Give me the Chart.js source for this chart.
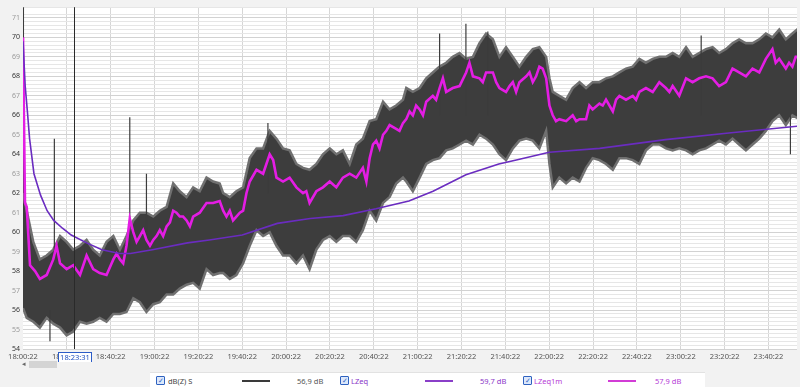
<!DOCTYPE html>
<html>
<head>
<meta charset="utf-8">
<script src="https://cdn.jsdelivr.net/npm/chart.js@4/dist/chart.umd.min.js"></script>
<style>
  body { margin: 0; width: 800px; height: 387px; background: #f2f2f2; overflow: hidden; position: relative;
         font-family: "Noto Sans", "Open Sans", sans-serif; }
  #wrap { position: absolute; left: 0; top: 0; width: 800px; height: 362px; }
  .scroll-arrow { position: absolute; left: 22px; top: 359px; font-size: 7px; color: #666; }
  .scroll-thumb { position: absolute; left: 29px; top: 361px; width: 28px; height: 7px; background: #d4d4d4; }
  .legend { position: absolute; left: 150px; top: 372px; width: 555px; height: 15px; background: #fff;
            border-top: 1px solid #e2e2e2; font-size: 7.5px; }
  .legend span { position: absolute; top: 3px; white-space: nowrap; }
  .legend .chk { top: 3px; width: 7px; height: 7px; border: 1px solid #2f62c0; background: #dce8fb;
                 color: #2f62c0; font-size: 7px; line-height: 7px; text-align: center; border-radius: 1px; }
  .legend .ln { top: 7px; height: 2px; }
</style>
</head>
<body>
<div id="wrap"><canvas id="chart" width="800" height="362"></canvas></div>
<div class="scroll-arrow">◂</div>
<div class="scroll-thumb"></div>
<div class="legend">
  <span class="chk" style="left:6px">✓</span>
  <span style="left:18px; color:#444">dB(Z) S</span>
  <span class="ln" style="left:92px; width:28px; background:#3a3a3a"></span>
  <span style="left:147px; color:#555">56,9 dB</span>
  <span class="chk" style="left:190px">✓</span>
  <span style="left:201px; color:#8a35c8">LZeq</span>
  <span class="ln" style="left:275px; width:28px; background:#8a3fc8"></span>
  <span style="left:330px; color:#8a35c8">59,7 dB</span>
  <span class="chk" style="left:373px">✓</span>
  <span style="left:384px; color:#b53bd6">LZeq1m</span>
  <span class="ln" style="left:458px; width:28px; background:#d23cd6"></span>
  <span style="left:505px; color:#b53bd6">57,9 dB</span>
</div>
<script>
// minutes after 18:00:22
const START_SEC = 18 * 3600 + 22;
const cursorT = 23.15;

// dB(Z) S — envelope of the fast signal (upper / lower edge)
const bandT = [0, 1.7, 4.7, 7.7, 10.8, 13.8, 16.9, 19.9, 22.9, 26, 29, 32, 35, 38.1, 41.2, 44.2, 47.2, 50.3, 53.3, 56.3,
  59.4, 62.4, 65.5, 68.5, 71.5, 74.6, 77.6, 80.6, 83.7, 86.7, 89.7, 91.3, 94.3, 97.3, 100.4, 103.4, 106.5, 109.5, 112.5, 115.6,
  118.6, 121.6, 124.7, 127.7, 130.7, 133.8, 136.8, 139.9, 142.9, 145.9, 149, 152, 155, 158.1, 161.1, 164.2, 167.2, 170.2, 173.3, 174.8,
  177.8, 180.9, 183.9, 186.9, 190, 193, 196, 199.1, 202.1, 205.2, 208.2, 211.2, 214.3, 217.3, 220.3, 223.4, 226.4, 229.5, 232.5, 235.5,
  238.6, 240.1, 241.6, 244.6, 247.7, 250.7, 253.8, 256.8, 259.8, 262.9, 265.9, 269, 272, 275, 278.1, 281.1, 284.1, 287.2, 290.2, 293.2,
  296.3, 299.3, 302.4, 305.4, 308.4, 311.5, 314.5, 317.5, 320.6, 323.6, 326.6, 329.7, 332.7, 335.8, 338.8, 341.8, 344.9, 347.9, 350.9, 354];
const bandHigh = [62.0, 61.1, 59.5, 58.6, 58.8, 59.1, 59.8, 59.5, 59.1, 59.3, 59.6, 59.1, 58.8, 59.5, 59.8, 59.1, 59.8, 60.6, 61.0, 61.0,
  60.8, 61.1, 61.3, 62.5, 62.1, 61.8, 62.3, 62.1, 62.8, 62.6, 62.5, 62.0, 61.8, 62.1, 62.3, 63.8, 64.3, 64.3, 65.2, 64.8,
  64.3, 64.2, 63.5, 63.3, 63.2, 63.5, 64.0, 64.3, 64.0, 64.2, 63.5, 64.5, 64.8, 65.7, 65.8, 66.7, 66.3, 66.5, 66.8, 67.4,
  67.2, 67.4, 67.9, 68.2, 68.5, 68.7, 69.0, 69.2, 68.9, 69.0, 69.7, 70.2, 69.9, 69.0, 69.5, 69.0, 68.5, 69.0, 69.4, 69.5,
  69.0, 67.9, 67.2, 67.0, 66.8, 67.4, 67.7, 67.4, 67.7, 67.7, 67.9, 68.0, 68.2, 68.4, 68.5, 68.9, 68.7, 68.9, 69.0, 69.0,
  69.2, 69.0, 69.5, 69.0, 69.2, 69.4, 69.5, 69.2, 69.4, 69.7, 69.9, 69.7, 69.7, 69.9, 70.2, 70.0, 70.4, 69.9, 70.2, 70.5];
const bandLow = [56.1, 55.6, 55.4, 55.1, 55.6, 55.3, 55.1, 54.7, 54.9, 55.4, 55.3, 55.4, 55.6, 55.4, 55.8, 55.8, 55.9, 56.6, 56.4, 55.9,
  56.3, 56.4, 56.8, 56.8, 57.1, 57.3, 57.4, 57.1, 58.1, 57.8, 57.9, 57.9, 57.6, 57.8, 58.4, 59.3, 60.1, 59.8, 60.0, 59.3,
  58.8, 58.8, 58.4, 58.8, 58.1, 59.1, 59.6, 59.8, 59.5, 59.8, 59.8, 59.5, 60.1, 61.1, 60.6, 61.5, 61.8, 62.5, 62.8, 62.6,
  62.1, 62.8, 63.5, 63.7, 63.8, 64.2, 64.3, 64.5, 64.7, 64.5, 65.0, 64.8, 64.5, 64.0, 63.7, 64.3, 64.7, 64.8, 64.7, 64.3,
  65.2, 63.5, 62.3, 62.8, 62.5, 62.8, 62.6, 63.3, 63.8, 63.7, 63.5, 63.2, 63.8, 63.8, 63.7, 63.5, 64.2, 64.5, 64.5, 64.3,
  64.2, 64.3, 64.2, 64.0, 64.2, 64.3, 64.5, 64.7, 64.5, 64.8, 64.5, 64.2, 64.5, 64.8, 65.2, 65.7, 66.0, 65.5, 66.0, 65.8];

// isolated spikes of dB(Z) S
const spikeT = [0.2, 12.3, 14.3, 48.7, 56.3, 111.7, 190, 202, 212, 309.3, 350];
const spikeLow = [62.0, 54.4, 58.0, 58.5, 59.0, 62.0, 66.0, 66.0, 66.0, 66.0, 64.0];
const spikeHigh = [72.0, 56.0, 64.8, 65.9, 63.0, 65.6, 70.2, 70.7, 70.3, 70.1, 66.0];

// LZeq1m
const lzeq1mT = [0, 0.9, 1.7, 3.2, 5.5, 7.7, 10.8, 13.8, 15.3, 16.9, 19.9, 22.9, 26, 29, 32, 35, 38.1, 41.2, 42.7, 44.2,
  45.7, 47.2, 48.7, 50.3, 51.8, 53.3, 54.8, 56.3, 57.9, 59.4, 60.9, 62.4, 63.9, 65.5, 67, 68.5, 70, 71.5, 73, 74.6,
  76.1, 77.6, 80.6, 83.7, 86.7, 89.7, 91.3, 92.8, 94.3, 95.8, 98.9, 100.4, 101.9, 103.4, 106.5, 109.5, 112.5, 114.1, 115.6, 118.6,
  121.6, 124.7, 127.7, 129.2, 130.7, 133.8, 136.8, 139.9, 142.9, 145.9, 149, 152, 155, 156.6, 158.1, 159.6, 161.1, 162.6, 164.2, 165.7,
  167.2, 170.2, 171.7, 173.3, 174.8, 176.3, 177.8, 179.3, 180.9, 182.4, 183.9, 186.9, 188.4, 190, 191.5, 193, 196, 199.1, 202.1, 203.6,
  205.2, 208.2, 209.7, 211.2, 214.3, 215.8, 217.3, 220.3, 221.9, 223.4, 224.9, 226.4, 229.5, 231, 232.5, 234, 235.5, 237, 238.6, 240.1,
  241.6, 243.1, 244.6, 247.7, 250.7, 252.3, 253.8, 256.8, 258.3, 259.8, 262.9, 264.4, 265.9, 269, 270.5, 272, 275, 278.1, 279.6, 281.1,
  284.1, 287.2, 290.2, 293.2, 294.8, 296.3, 299.3, 302.4, 305.4, 308.4, 311.5, 314.5, 317.5, 320.6, 323.6, 326.6, 329.7, 332.7, 335.8, 338.8,
  341.8, 343.3, 344.9, 347.9, 349.4, 350.9, 352.4, 354];
const lzeq1m = [70.0, 61.5, 61.3, 58.3, 58.0, 57.6, 57.8, 58.6, 59.3, 58.4, 58.1, 58.3, 57.8, 58.8, 58.1, 57.9, 57.8, 58.6, 58.9, 58.6,
  58.4, 59.3, 60.7, 60.0, 59.5, 59.8, 60.1, 59.6, 59.3, 59.6, 59.8, 60.1, 59.8, 60.3, 60.5, 61.1, 61.0, 60.8, 60.8, 60.6,
  60.3, 60.8, 61.0, 61.5, 61.5, 61.6, 61.1, 60.8, 61.1, 60.6, 61.0, 61.1, 62.0, 62.6, 63.2, 63.0, 64.0, 63.7, 62.8, 62.6,
  62.8, 62.3, 62.0, 62.1, 61.5, 62.1, 62.3, 62.6, 62.3, 62.8, 63.0, 62.8, 63.3, 62.6, 63.8, 64.5, 64.7, 64.3, 65.0, 65.2,
  65.5, 65.3, 65.2, 65.6, 65.8, 66.2, 66.0, 66.5, 66.3, 66.0, 66.7, 67.0, 66.8, 67.4, 67.9, 67.2, 67.4, 67.5, 68.2, 68.7,
  68.0, 67.9, 67.7, 68.2, 68.2, 67.7, 67.4, 67.2, 67.5, 67.7, 67.2, 67.7, 68.0, 68.2, 67.7, 68.0, 68.5, 68.4, 67.9, 66.5,
  66.0, 65.7, 65.8, 65.7, 66.0, 65.7, 65.8, 65.8, 66.5, 66.3, 66.6, 66.5, 66.8, 66.2, 66.8, 67.0, 66.8, 67.0, 66.8, 67.2,
  67.4, 67.2, 67.7, 67.4, 67.2, 67.5, 67.0, 67.9, 67.7, 67.9, 68.0, 67.9, 67.5, 67.7, 68.4, 68.2, 68.0, 68.4, 68.2, 68.9,
  69.4, 68.7, 68.9, 68.4, 68.7, 68.5, 69.0, 69.0];

// LZeq (running average)
const lzeqT = [0, 1, 2, 3, 5, 8, 11, 14, 18, 22, 29, 36, 44, 49, 59, 75, 85, 100, 116, 131, 146, 161, 176, 187, 202, 217, 225, 240, 263, 293, 323, 354];
const lzeq = [69.8, 67.5, 66.2, 64.8, 63.0, 61.9, 61.1, 60.6, 60.2, 59.85, 59.45, 59.1, 58.9, 58.9, 59.1, 59.45, 59.6, 59.85, 60.45, 60.7,
  60.85, 61.2, 61.6, 62.1, 62.95, 63.5, 63.7, 64.1, 64.3, 64.75, 65.1, 65.45];

const pts = (xs, ys) => xs.map((x, i) => ({ x, y: ys[i] }));
const spikePts = [];
spikeT.forEach((t, i) => {
  spikePts.push({ x: t, y: spikeLow[i] }, { x: t, y: spikeHigh[i] }, { x: t, y: null });
});

function fmt(min) {
  const s = START_SEC + Math.round(min * 60);
  const p = (n) => String(n).padStart(2, '0');
  return `${p(Math.floor(s / 3600) % 24)}:${p(Math.floor(s / 60) % 60)}:${p(s % 60)}`;
}
const isInt = (v) => Math.abs(v - Math.round(v)) < 1e-6;
const FONT = '"Noto Sans", "Open Sans", sans-serif';

const plotBg = {
  id: 'plotBg',
  beforeDraw(chart) {
    const { ctx, chartArea: a } = chart;
    ctx.save();
    ctx.fillStyle = '#ffffff';
    ctx.fillRect(a.left, a.top, a.right - a.left, a.bottom - a.top);
    ctx.restore();
  },
};

const cursor = {
  id: 'cursor',
  afterDraw(chart) {
    const { ctx, chartArea: a, scales: { x } } = chart;
    const px = Math.round(x.getPixelForValue(cursorT)) + 0.5;
    ctx.save();
    ctx.strokeStyle = '#2a2a2a';
    ctx.lineWidth = 1;
    ctx.beginPath();
    ctx.moveTo(px, a.top);
    ctx.lineTo(px, a.bottom);
    ctx.stroke();
    const txt = fmt(cursorT);
    ctx.font = `7.5px ${FONT}`;
    const w = Math.ceil(ctx.measureText(txt).width) + 3;
    const bx = Math.round(px - w / 2) + 0.5, by = a.bottom + 3.5;
    ctx.fillStyle = '#ffffff';
    ctx.fillRect(bx, by, w, 10);
    ctx.strokeStyle = '#2c5cc7';
    ctx.strokeRect(bx, by, w, 10);
    ctx.fillStyle = '#1f4fbf';
    ctx.textAlign = 'center';
    ctx.textBaseline = 'middle';
    ctx.fillText(txt, bx + w / 2, by + 5.5);
    ctx.restore();
  },
};

new Chart(document.getElementById('chart'), {
  type: 'line',
  data: {
    datasets: [
      { label: 'LZeq', data: pts(lzeqT, lzeq), borderColor: '#6a2cc0', borderWidth: 1.6, order: 0, fill: false },
      { label: 'LZeq1m', data: pts(lzeq1mT, lzeq1m), borderColor: '#e41de4', borderWidth: 2.6, order: 1, fill: false },
      { label: 'spikes', data: spikePts, borderColor: '#3c3c3c', borderWidth: 1.2, order: 2, fill: false, spanGaps: false },
      { label: 'dB(Z) S high', data: pts(bandT, bandHigh), borderColor: '#707070', borderWidth: 2.5, order: 3, fill: false },
      { label: 'dB(Z) S low', data: pts(bandT, bandLow), borderColor: '#707070', borderWidth: 2.5, order: 4,
        fill: '-1', backgroundColor: '#3d3d3d' },
    ],
  },
  options: {
    responsive: false,
    animation: false,
    maintainAspectRatio: false,
    layout: { padding: { left: 0, right: 0, top: 0, bottom: 0 } },
    elements: { point: { radius: 0 }, line: { tension: 0 } },
    plugins: { legend: { display: false }, tooltip: { enabled: false } },
    scales: {
      x: {
        type: 'linear', min: 0, max: 353,
        border: { display: false },
        grid: { color: (c) => (c.tick && c.tick.value % 20 === 0 && c.tick.value > 0 ? '#d6d6d6' : 'rgba(0,0,0,0)'), drawTicks: false },
        ticks: {
          stepSize: 20, autoSkip: false, maxRotation: 0, padding: 3, color: '#555',
          font: { size: 7.5, family: FONT },
          callback: (v) => (v % 20 === 0 ? fmt(v) : ''),
        },
        afterFit: (s) => { s.height = 13; },
      },
      y: {
        min: 54, max: 71.55,
        border: { display: false },
        grid: { color: (c) => (c.tick && isInt(c.tick.value) ? '#d2d2d2' : '#e6e6e6'), drawTicks: false },
        ticks: {
          stepSize: 0.2, autoSkip: false, padding: 3,
          font: { size: 7, family: FONT },
          color: (c) => (Math.round(c.tick.value) % 2 === 0 ? '#333' : '#9a9a9a'),
          callback: (v) => (isInt(v) ? String(Math.round(v)) : ''),
        },
        afterFit: (s) => { s.width = 23; },
      },
    },
  },
  plugins: [plotBg, cursor],
});
</script>
</body>
</html>
